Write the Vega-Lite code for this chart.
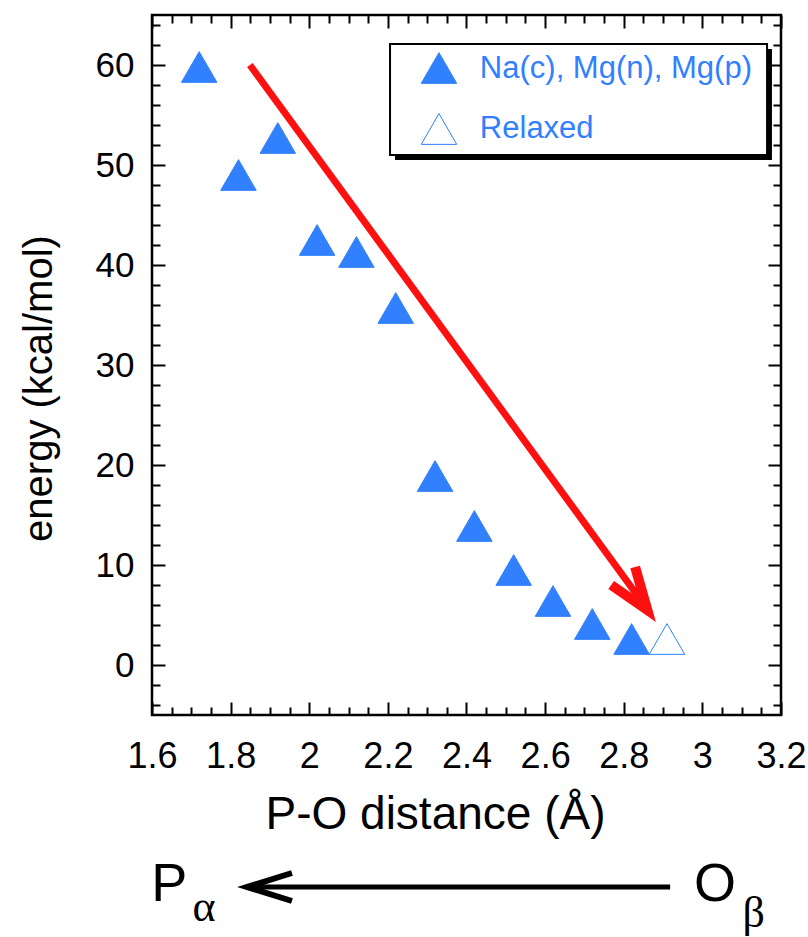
{
  "$schema": "https://vega.github.io/schema/vega-lite/v6.json",
  "width": 629,
  "height": 700,
  "autosize": {"type": "none"},
  "padding": {"left": 152, "top": 15, "right": 27, "bottom": 222},
  "background": "white",
  "config": {
    "view": {"stroke": "black", "strokeWidth": 2.5},
    "font": "Liberation Sans",
    "axis": {
      "grid": false,
      "domain": false,
      "tickColor": "black",
      "tickWidth": 2,
      "labelColor": "black",
      "titleColor": "black",
      "labelFont": "Liberation Sans",
      "titleFont": "Liberation Sans",
      "titleFontWeight": "normal",
      "labelFlush": false
    }
  },
  "datasets": {
    "points": [
      {"x": 1.72, "y": 59.8, "series": "Na(c), Mg(n), Mg(p)"},
      {"x": 1.82, "y": 49.0, "series": "Na(c), Mg(n), Mg(p)"},
      {"x": 1.92, "y": 52.7, "series": "Na(c), Mg(n), Mg(p)"},
      {"x": 2.02, "y": 42.5, "series": "Na(c), Mg(n), Mg(p)"},
      {"x": 2.12, "y": 41.3, "series": "Na(c), Mg(n), Mg(p)"},
      {"x": 2.22, "y": 35.7, "series": "Na(c), Mg(n), Mg(p)"},
      {"x": 2.32, "y": 18.9, "series": "Na(c), Mg(n), Mg(p)"},
      {"x": 2.42, "y": 13.9, "series": "Na(c), Mg(n), Mg(p)"},
      {"x": 2.52, "y": 9.5, "series": "Na(c), Mg(n), Mg(p)"},
      {"x": 2.62, "y": 6.4, "series": "Na(c), Mg(n), Mg(p)"},
      {"x": 2.72, "y": 4.1, "series": "Na(c), Mg(n), Mg(p)"},
      {"x": 2.82, "y": 2.6, "series": "Na(c), Mg(n), Mg(p)"},
      {"x": 2.91, "y": 2.6, "series": "Relaxed"}
    ],
    "legendSymbols": [
      {"x": 2.33, "y": 59.7, "series": "Na(c), Mg(n), Mg(p)"},
      {"x": 2.33, "y": 53.6, "series": "Relaxed"}
    ],
    "legendLabels": [
      {"x": 2.434, "y": 58.7, "label": "Na(c), Mg(n), Mg(p)"},
      {"x": 2.434, "y": 52.7, "label": "Relaxed"}
    ],
    "legendBox": [
      {"x": 2.2055, "x2": 3.1645, "y": 62.1, "y2": 51.0}
    ],
    "legendShadow": [
      {"x": 2.218, "x2": 3.177, "y": 61.6, "y2": 50.5}
    ],
    "shaft": [
      {"x": 1.849, "y": 60.0, "o": 0},
      {"x": 2.845, "y": 6.4, "o": 1}
    ],
    "head": [
      {"x": 2.768, "y": 8.0, "o": 0},
      {"x": 2.860, "y": 5.5, "o": 1},
      {"x": 2.829, "y": 9.8, "o": 2}
    ],
    "bottomShaft": [
      {"x": 1.86, "y": -22.2, "o": 0},
      {"x": 2.918, "y": -22.2, "o": 1}
    ],
    "bottomHead": [
      {"x": 1.956, "y": -20.8, "o": 0},
      {"x": 1.842, "y": -22.2, "o": 1},
      {"x": 1.956, "y": -23.6, "o": 2}
    ],
    "bigLetters": [
      {"x": 1.598, "y": -23.6, "t": "P"},
      {"x": 2.979, "y": -23.6, "t": "O"}
    ],
    "subLetters": [
      {"x": 1.703, "y": -25.6, "t": "α"},
      {"x": 3.102, "y": -26.2, "t": "β"}
    ]
  },
  "resolve": {"axis": {"x": "independent", "y": "independent"}},
  "layer": [
    {
      "data": {"name": "points"},
      "mark": {"type": "point", "shape": "triangle-up", "filled": false, "size": 1260, "strokeWidth": 1, "opacity": 1, "stroke": "#3080FF"},
      "encoding": {
        "x": {
          "field": "x", "type": "quantitative",
          "scale": {"domain": [1.6, 3.2], "nice": false, "zero": false},
          "axis": {
            "orient": "bottom",
            "values": [1.6, 1.8, 2, 2.2, 2.4, 2.6, 2.8, 3, 3.2],
            "labelExpr": "'' + datum.value",
            "tickSize": -13,
            "labelPadding": 37,
            "labelFontSize": 36,
            "title": "P-O distance (Å)",
            "titleFontSize": 46,
            "titlePadding": 18,
            "titleX": 283
          }
        },
        "y": {
          "field": "y", "type": "quantitative",
          "scale": {"domain": [-5, 65], "nice": false, "zero": false},
          "axis": {
            "orient": "left",
            "values": [0, 10, 20, 30, 40, 50, 60],
            "labelExpr": "'' + datum.value",
            "tickSize": -13,
            "labelPadding": 31,
            "labelFontSize": 35,
            "title": "energy (kcal/mol)",
            "titleFontSize": 40,
            "titlePadding": 36,
            "titleY": 373
          }
        },
        "fill": {
          "field": "series", "type": "nominal",
          "scale": {"domain": ["Na(c), Mg(n), Mg(p)", "Relaxed"], "range": ["#3080FF", "white"]},
          "legend": null
        }
      }
    },
    {
      "data": {"name": "legendShadow"},
      "mark": {"type": "rect", "color": "black"},
      "encoding": {
        "x": {"field": "x", "type": "quantitative", "scale": {"domain": [1.6, 3.2], "nice": false, "zero": false},
          "axis": {"orient": "bottom", "values": [1.65, 1.7, 1.75, 1.85, 1.9, 1.95, 2.05, 2.1, 2.15, 2.25, 2.3, 2.35, 2.45, 2.5, 2.55, 2.65, 2.7, 2.75, 2.85, 2.9, 2.95, 3.05, 3.1, 3.15], "tickSize": -8, "labels": false, "title": null}},
        "x2": {"field": "x2"},
        "y": {"field": "y", "type": "quantitative", "scale": {"domain": [-5, 65], "nice": false, "zero": false},
          "axis": {"orient": "left", "values": [-4, -2, 2, 4, 6, 8, 12, 14, 16, 18, 22, 24, 26, 28, 32, 34, 36, 38, 42, 44, 46, 48, 52, 54, 56, 58, 62, 64], "tickSize": -8, "labels": false, "title": null}},
        "y2": {"field": "y2"}
      }
    },
    {
      "data": {"name": "legendBox"},
      "mark": {"type": "rect", "fill": "white", "stroke": "black", "strokeWidth": 2},
      "encoding": {
        "x": {"field": "x", "type": "quantitative", "axis": null},
        "x2": {"field": "x2"},
        "y": {"field": "y", "type": "quantitative", "axis": null},
        "y2": {"field": "y2"}
      }
    },
    {
      "data": {"name": "legendSymbols"},
      "mark": {"type": "point", "shape": "triangle-up", "filled": false, "size": 1260, "strokeWidth": 1, "opacity": 1, "stroke": "#3080FF"},
      "encoding": {
        "x": {"field": "x", "type": "quantitative", "axis": null},
        "y": {"field": "y", "type": "quantitative", "axis": null},
        "fill": {"field": "series", "type": "nominal", "legend": null}
      }
    },
    {
      "data": {"name": "legendLabels"},
      "mark": {"type": "text", "align": "left", "baseline": "alphabetic", "fontSize": 31, "font": "Liberation Sans", "color": "#3080FF"},
      "encoding": {
        "x": {"field": "x", "type": "quantitative", "axis": null},
        "y": {"field": "y", "type": "quantitative", "axis": null},
        "text": {"field": "label"}
      }
    },
    {
      "data": {"name": "shaft"},
      "mark": {"type": "line", "color": "#FF1010", "strokeWidth": 7, "strokeCap": "butt"},
      "encoding": {
        "x": {"field": "x", "type": "quantitative", "scale": {"domain": [1.6, 3.2], "nice": false, "zero": false},
          "axis": {"orient": "top", "values": [1.6, 1.8, 2, 2.2, 2.4, 2.6, 2.8, 3, 3.2], "tickSize": -13, "labels": false, "title": null}},
        "y": {"field": "y", "type": "quantitative", "scale": {"domain": [-5, 65], "nice": false, "zero": false},
          "axis": {"orient": "right", "values": [0, 10, 20, 30, 40, 50, 60], "tickSize": -13, "labels": false, "title": null}},
        "order": {"field": "o"}
      }
    },
    {
      "data": {"name": "head"},
      "mark": {"type": "line", "color": "#FF1010", "strokeWidth": 10, "strokeCap": "butt", "strokeJoin": "miter"},
      "encoding": {
        "x": {"field": "x", "type": "quantitative", "scale": {"domain": [1.6, 3.2], "nice": false, "zero": false},
          "axis": {"orient": "top", "values": [1.65, 1.7, 1.75, 1.85, 1.9, 1.95, 2.05, 2.1, 2.15, 2.25, 2.3, 2.35, 2.45, 2.5, 2.55, 2.65, 2.7, 2.75, 2.85, 2.9, 2.95, 3.05, 3.1, 3.15], "tickSize": -8, "labels": false, "title": null}},
        "y": {"field": "y", "type": "quantitative", "scale": {"domain": [-5, 65], "nice": false, "zero": false},
          "axis": {"orient": "right", "values": [-4, -2, 2, 4, 6, 8, 12, 14, 16, 18, 22, 24, 26, 28, 32, 34, 36, 38, 42, 44, 46, 48, 52, 54, 56, 58, 62, 64], "tickSize": -8, "labels": false, "title": null}},
        "order": {"field": "o"}
      }
    },
    {
      "data": {"name": "bottomShaft"},
      "mark": {"type": "line", "color": "black", "strokeWidth": 5, "strokeCap": "butt"},
      "encoding": {
        "x": {"field": "x", "type": "quantitative", "axis": null},
        "y": {"field": "y", "type": "quantitative", "axis": null},
        "order": {"field": "o"}
      }
    },
    {
      "data": {"name": "bottomHead"},
      "mark": {"type": "line", "color": "black", "strokeWidth": 6, "strokeCap": "butt", "strokeJoin": "miter"},
      "encoding": {
        "x": {"field": "x", "type": "quantitative", "axis": null},
        "y": {"field": "y", "type": "quantitative", "axis": null},
        "order": {"field": "o"}
      }
    },
    {
      "data": {"name": "bigLetters"},
      "mark": {"type": "text", "align": "left", "baseline": "alphabetic", "fontSize": 54, "font": "Liberation Sans", "color": "black"},
      "encoding": {
        "x": {"field": "x", "type": "quantitative", "axis": null},
        "y": {"field": "y", "type": "quantitative", "axis": null},
        "text": {"field": "t"}
      }
    },
    {
      "data": {"name": "subLetters"},
      "mark": {"type": "text", "align": "left", "baseline": "alphabetic", "fontSize": 44, "font": "Liberation Serif", "color": "black"},
      "encoding": {
        "x": {"field": "x", "type": "quantitative", "axis": null},
        "y": {"field": "y", "type": "quantitative", "axis": null},
        "text": {"field": "t"}
      }
    }
  ]
}
